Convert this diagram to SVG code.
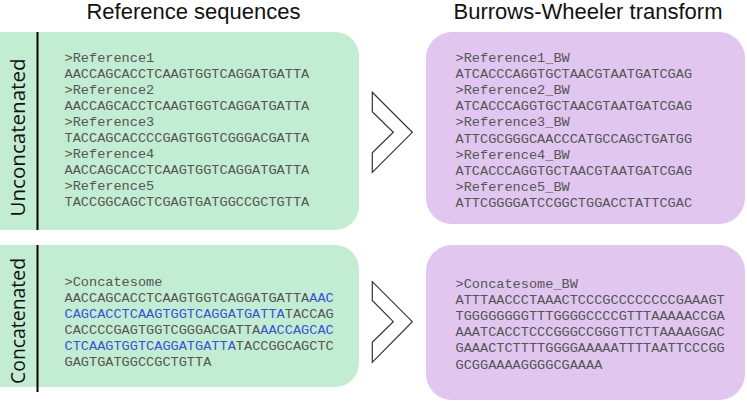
<svg xmlns="http://www.w3.org/2000/svg" width="747" height="402" viewBox="0 0 747 402">
<style>
.title{font-family:"Liberation Sans",Arial,sans-serif;font-size:22px;fill:#111;text-anchor:middle}
.side{font-family:"Open Sans","DejaVu Sans",sans-serif;font-size:20px;fill:#111;text-anchor:middle}
.seq{font-family:"Liberation Mono","Courier New",monospace;font-size:13.6px;fill:#555}
.blue{fill:#3a52d4}
.green{fill:#c2edd3}
.purple{fill:#e1c6f0}
.chev{fill:#fff;stroke:#333;stroke-width:1.2;stroke-linejoin:miter}
.bar{stroke:#000;stroke-width:2}
</style>
<rect width="747" height="402" fill="#fff"/>
<text class="title" x="193.5" y="19">Reference sequences</text>
<text class="title" x="588" y="19">Burrows-Wheeler transform</text>

<g id="unconcat-ref">
<rect class="green" x="-30" y="32" width="389" height="198" rx="24"/>
<line class="bar" x1="37.5" y1="32" x2="37.5" y2="230"/>
<text class="side" transform="translate(24.5,137.5) rotate(-90)" textLength="158" lengthAdjust="spacingAndGlyphs">Unconcatenated</text>
<text class="seq" x="64.5" y="61.5">&gt;Reference1</text>
<text class="seq" x="64.5" y="77.6">AACCAGCACCTCAAGTGGTCAGGATGATTA</text>
<text class="seq" x="64.5" y="93.7">&gt;Reference2</text>
<text class="seq" x="64.5" y="109.8">AACCAGCACCTCAAGTGGTCAGGATGATTA</text>
<text class="seq" x="64.5" y="125.9">&gt;Reference3</text>
<text class="seq" x="64.5" y="142">TACCAGCACCCCGAGTGGTCGGGACGATTA</text>
<text class="seq" x="64.5" y="158.1">&gt;Reference4</text>
<text class="seq" x="64.5" y="174.2">AACCAGCACCTCAAGTGGTCAGGATGATTA</text>
<text class="seq" x="64.5" y="190.3">&gt;Reference5</text>
<text class="seq" x="64.5" y="206.4">TACCGGCAGCTCGAGTGATGGCCGCTGTTA</text>
</g>

<g id="unconcat-bw">
<rect class="purple" x="426" y="32" width="319" height="192" rx="26"/>
<text class="seq" x="455.5" y="62">&gt;Reference1_BW</text>
<text class="seq" x="455.5" y="78.1">ATCACCCAGGTGCTAACGTAATGATCGAG</text>
<text class="seq" x="455.5" y="94.2">&gt;Reference2_BW</text>
<text class="seq" x="455.5" y="110.3">ATCACCCAGGTGCTAACGTAATGATCGAG</text>
<text class="seq" x="455.5" y="126.4">&gt;Reference3_BW</text>
<text class="seq" x="455.5" y="142.5">ATTCGCGGGCAACCCATGCCAGCTGATGG</text>
<text class="seq" x="455.5" y="158.6">&gt;Reference4_BW</text>
<text class="seq" x="455.5" y="174.7">ATCACCCAGGTGCTAACGTAATGATCGAG</text>
<text class="seq" x="455.5" y="190.8">&gt;Reference5_BW</text>
<text class="seq" x="455.5" y="206.9">ATTCGGGGATCCGGCTGGACCTATTCGAC</text>
</g>

<g id="concat-ref">
<rect class="green" x="-30" y="245" width="389" height="142" rx="24"/>
<line class="bar" x1="37.5" y1="245" x2="37.5" y2="392"/>
<text class="side" transform="translate(24.5,321) rotate(-90)" textLength="126" lengthAdjust="spacingAndGlyphs">Concatenated</text>
<text class="seq" x="64.5" y="285.7">&gt;Concatesome</text>
<text class="seq" x="64.5" y="301.8">AACCAGCACCTCAAGTGGTCAGGATGATTA<tspan class="blue">AAC</tspan></text>
<text class="seq" x="64.5" y="317.9"><tspan class="blue">CAGCACCTCAAGTGGTCAGGATGATTA</tspan>TACCAG</text>
<text class="seq" x="64.5" y="334">CACCCCGAGTGGTCGGGACGATTA<tspan class="blue">AACCAGCAC</tspan></text>
<text class="seq" x="64.5" y="350.1"><tspan class="blue">CTCAAGTGGTCAGGATGATTA</tspan>TACCGGCAGCTC</text>
<text class="seq" x="64.5" y="366.2">GAGTGATGGCCGCTGTTA</text>
</g>

<g id="concat-bw">
<rect class="purple" x="426" y="245" width="319" height="155" rx="26"/>
<text class="seq" x="455.5" y="288">&gt;Concatesome_BW</text>
<text class="seq" x="455.5" y="304.1">ATTTAACCCTAAACTCCCGCCCCCCCCGAAAGT</text>
<text class="seq" x="455.5" y="320.2">TGGGGGGGGTTTGGGGCCCCGTTTAAAAACCGA</text>
<text class="seq" x="455.5" y="336.3">AAATCACCTCCCGGGCCGGGTTCTTAAAAGGAC</text>
<text class="seq" x="455.5" y="352.4">GAAACTCTTTTGGGGAAAAATTTTAATTCCCGG</text>
<text class="seq" x="455.5" y="368.5">GCGGAAAAGGGGCGAAAA</text>
</g>

<g id="connectors">
<path class="chev" d="M372.3,92.3 L372.3,111.7 L393.3,132.3 L372.3,152.7 L372.3,172.3 L412.3,132.3 Z"/>
<path class="chev" d="M372.3,281.7 L372.3,300.5 L393.3,321.7 L372.3,342.3 L372.3,362.3 L412.3,321.7 Z"/>
</g>
</svg>
